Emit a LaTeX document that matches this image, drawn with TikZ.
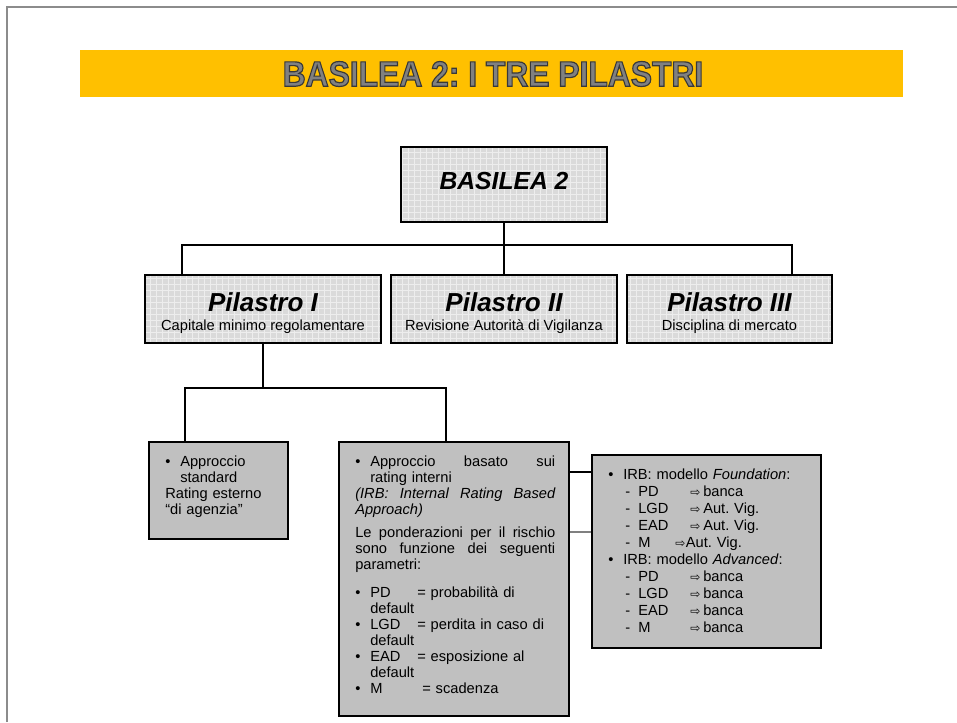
\documentclass[tikz,border=0pt]{standalone}
\usepackage{fontspec}
\setmainfont{Liberation Sans}
\newfontfamily\arrfont{DejaVu Sans}
\usepackage{graphicx}
\usetikzlibrary{patterns.meta}
\frenchspacing

\definecolor{barorange}{HTML}{FFC000}
\definecolor{slideline}{HTML}{8C8C8C}
\definecolor{gridbase}{HTML}{DADADA}
\definecolor{gridline}{HTML}{EDEDED}
\definecolor{boxgray}{HTML}{C0C0C0}
\definecolor{titlegray}{HTML}{808080}

% arrow sign and list lines
\newcommand{\arr}{{\arrfont\fontsize{9}{9}\selectfont ⇨}}
\newcommand{\irbitem}[2]{\makebox[11.25pt][l]{\textbullet}\makebox[35.25pt][l]{#1}#2}
\newcommand{\fnditem}[2]{\hspace*{12.75pt}\makebox[9.75pt][l]{-}\makebox[39pt][l]{#1}\makebox[9.75pt][l]{\arr}#2}
\newcommand{\fullline}[1]{{\spaceskip=0.28em plus 1fil\makebox[150pt][s]{#1}}}
% outlined title letters
\newcommand{\outlined}[1]{\special{pdf:literal direct 2 Tr 0.9 w 0.22 G}#1\special{pdf:literal direct 0 Tr 0 G}}

\tikzset{
  pilbox/.style={draw, line width=1.5pt, preaction={fill=gridbase},
    pattern={Hatch[angle=0,distance=4.5pt,line width=0.6pt]}, pattern color=gridline, inner sep=0pt},
  lowbox/.style={draw, line width=1.5pt, fill=boxgray, inner sep=0pt},
  conn/.style={line width=1.3pt},
  piltitle/.style={inner sep=0pt, font=\fontsize{19.5}{20}\selectfont\bfseries\itshape},
  pilsub/.style={inner sep=0pt, font=\fontsize{11}{12}\selectfont},
  boxtext/.style={anchor=north west, inner sep=0pt, align=left, font=\fontsize{11}{12}\selectfont},
  titletext/.style={inner sep=0pt, font=\fontsize{26.5}{27}\selectfont\bfseries},
}

\begin{document}
\begin{tikzpicture}[x=0.75pt,y=0.75pt,yscale=-1]
\useasboundingbox (0,0) rectangle (957,722);

%slide frame
\draw[slideline, line width=1.5pt] (7,722) -- (7,7) -- (957,7);

%title bar
\fill[barorange] (80,50) rectangle (903,97);
\node[titletext, text=titlegray] (title) at (493,74) {\outlined{\scalebox{0.9}[1]{BASILEA 2: I TRE PILASTRI}}};

%top box
\node[pilbox, minimum width=154.5pt, minimum height=56.25pt] (b2) at (504,184.5) {};
\node[inner sep=0pt, font=\fontsize{18.5}{19}\selectfont\bfseries\itshape] (b2t) at (504,181) {BASILEA 2};

%pillars
\node[pilbox, minimum width=177pt, minimum height=51pt] (p1) at (263,309) {};
\node[pilbox, minimum width=169.5pt, minimum height=51pt] (p2) at (504,309) {};
\node[pilbox, minimum width=153.75pt, minimum height=51pt] (p3) at (729.5,309) {};
\node[piltitle] (p1t) at (263,302) {Pilastro I};
\node[pilsub] (p1s) at (263,327) {Capitale minimo regolamentare};
\node[piltitle] (p2t) at (504,302) {Pilastro II};
\node[pilsub] (p2s) at (504,327) {Revisione Autorità di Vigilanza};
\node[piltitle] (p3t) at (729.5,302) {Pilastro III};
\node[pilsub] (p3s) at (729.5,327) {Disciplina di mercato};

%lower boxes
\node[lowbox, minimum width=104.25pt, minimum height=72.75pt] (std) at (218.5,490.5) {};
\node[lowbox, minimum width=172.5pt, minimum height=205.5pt] (irb) at (454,579) {};
\node[lowbox, minimum width=171.75pt, minimum height=144.75pt] (fnd) at (706.5,551.5) {};

\node[boxtext, text width=100pt] (stdt) at (165,456) {%
\makebox[11.25pt][l]{\textbullet}Approccio\\
\hspace*{11.25pt}standard\\
Rating esterno\\
“di agenzia”};

\node[boxtext, text width=150pt] (irbt) at (355,456) {%
\fullline{\makebox[11.25pt][l]{\textbullet}Approccio basato sui}\\
\hspace*{11.25pt}rating interni\\
\fullline{\itshape (IRB: Internal Rating Based}\\
\textit{Approach)}\\[5pt]
\fullline{Le ponderazioni per il rischio}\\
\fullline{sono funzione dei seguenti}\\
parametri:\\[9pt]
\irbitem{PD}{= probabilità di}\\
\hspace*{11.25pt}default\\
\irbitem{LGD}{= perdita in caso di}\\
\hspace*{11.25pt}default\\
\irbitem{EAD}{= esposizione al}\\
\hspace*{11.25pt}default\\
\makebox[11.25pt][l]{\textbullet}\makebox[39pt][l]{M}= scadenza};

\node[boxtext, text width=160pt, font=\fontsize{11}{12.75}\selectfont] (fndt) at (608,469) {%
\makebox[11.25pt][l]{\textbullet}IRB: modello \textit{Foundation}:\\
\fnditem{PD}{banca}\\
\fnditem{LGD}{Aut. Vig.}\\
\fnditem{EAD}{Aut. Vig.}\\
\hspace*{12.75pt}\makebox[9.75pt][l]{-}\makebox[27.75pt][l]{M}\makebox[8pt][l]{\arr}Aut. Vig.\\
\makebox[11.25pt][l]{\textbullet}IRB: modello \textit{Advanced}:\\
\fnditem{PD}{banca}\\
\fnditem{LGD}{banca}\\
\fnditem{EAD}{banca}\\
\fnditem{M}{banca}};

%connectors
\coordinate (busL) at (182,245);
\coordinate (busR) at (792,245);
\coordinate (busA) at (185,388);
\coordinate (busB) at (446,388);
\coordinate (linkA) at (0,472);
\coordinate (linkB) at (0,532);
\draw[conn] (b2) -- (p2);
\draw[conn] (busL |- p1.north) -- (busL) -- (busR) -- (busR |- p3.north);
\draw[conn] (p1.south) -- (p1.south |- busA);
\draw[conn] (busA |- std.north) -- (busA) -- (busB) -- (busB |- irb.north);
\draw[conn] (irb.east |- linkA) -- (fnd.west |- linkA);
\draw[line width=0.8pt, gray] (irb.east |- linkB) -- (fnd.west |- linkB);

\end{tikzpicture}
\end{document}
